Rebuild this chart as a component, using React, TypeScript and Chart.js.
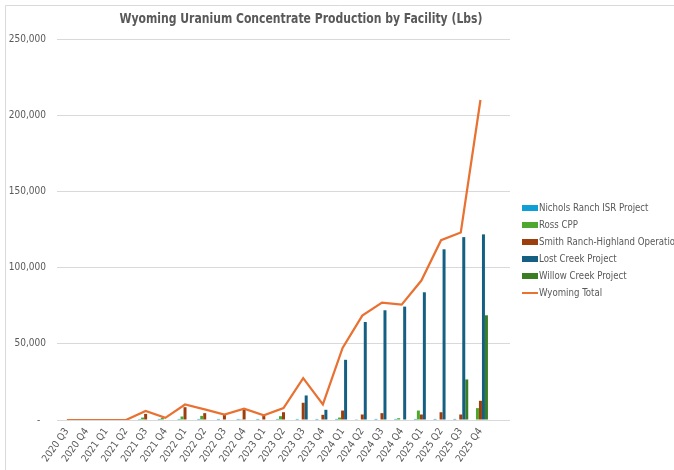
import React, { useEffect, useRef } from "react";
import { Chart, registerables } from "chart.js";

Chart.register(...registerables);

const categories = [
  "2020 Q3", "2020 Q4", "2021 Q1", "2021 Q2", "2021 Q3", "2021 Q4",
  "2022 Q1", "2022 Q2", "2022 Q3", "2022 Q4", "2023 Q1", "2023 Q2",
  "2023 Q3", "2023 Q4", "2024 Q1", "2024 Q2", "2024 Q3", "2024 Q4",
  "2025 Q1", "2025 Q2", "2025 Q3", "2025 Q4", "",
];

const nicholsRanch = [0, 0, 0, 0, 600, 700, 700, 700, 700, 700, 700, 700, 700, 700, 700, 500, 700, 700, 700, 700, 700, 0, null];
const rossCPP = [0, 0, 0, 0, 1600, 1400, 2300, 2700, 300, 500, 0, 2500, 0, 0, 1600, 0, 0, 1200, 6200, 0, 0, 7800, null];
const smithRanch = [0, 0, 0, 0, 4000, 0, 8400, 4500, 3300, 7100, 2800, 5100, 11300, 3400, 6200, 3600, 4500, 0, 3600, 5100, 3600, 12600, null];
const lostCreek = [0, 0, 0, 0, 0, 0, 0, 0, 0, 0, 0, 0, 16100, 6700, 39500, 64300, 72000, 74400, 83800, 112000, 120000, 121800, null];
const willowCreek = [0, 0, 0, 0, 0, 0, 0, 0, 0, 0, 0, 0, 0, 0, 0, 0, 0, 0, 0, 0, 26600, 68700, null];
const wyomingTotal = [0, 0, 0, 0, 6000, 1400, 10200, 7000, 3600, 7400, 3000, 7800, 27500, 10200, 47300, 68500, 77000, 75700, 91500, 118000, 123000, 210000, null];

const yTicks = [0, 50000, 100000, 150000, 200000, 250000];

const FONT = '"DejaVu Sans Condensed", "Liberation Sans Narrow", sans-serif';
const TEXT = "#595959";

const overlayPlugin = {
  id: "overlay",
  afterDraw(chart: any) {
    const ctx = chart.ctx;
    ctx.save();
    // chart border
    ctx.strokeStyle = "#D9D9D9";
    ctx.lineWidth = 1;
    ctx.beginPath();
    ctx.moveTo(5.5, 470);
    ctx.lineTo(5.5, 5.5);
    ctx.lineTo(674, 5.5);
    ctx.stroke();
    // title
    const title = "Wyoming Uranium Concentrate Production by Facility (Lbs)";
    ctx.fillStyle = TEXT;
    ctx.font = `bold 14px ${FONT}`;
    ctx.textAlign = "left";
    ctx.textBaseline = "middle";
    const tw = ctx.measureText(title).width;
    const targetW = 363;
    ctx.save();
    ctx.translate(301 - targetW / 2, 19);
    ctx.scale(targetW / tw, 1);
    ctx.fillText(title, 0, 0);
    ctx.restore();
    // legend
    ctx.font = `11px ${FONT}`;
    ctx.textAlign = "left";
    const ys = [208, 225, 242, 259, 276, 293];
    chart.data.datasets.forEach((ds: any, i: number) => {
      const y = ys[i];
      if (ds.type === "line") {
        ctx.strokeStyle = ds.borderColor;
        ctx.lineWidth = 2;
        ctx.beginPath();
        ctx.moveTo(522, y);
        ctx.lineTo(538, y);
        ctx.stroke();
      } else {
        ctx.fillStyle = ds.backgroundColor;
        ctx.fillRect(522, y - 3, 16, 6);
      }
      ctx.fillStyle = TEXT;
      ctx.save();
      ctx.translate(539, y + 0.5);
      ctx.scale(0.87, 1);
      ctx.fillText(ds.label, 0, 0);
      ctx.restore();
    });
    ctx.restore();
  },
};

export default function App() {
  const ref = useRef<HTMLCanvasElement | null>(null);
  useEffect(() => {
    if (!ref.current) return;
    const barCommon = { type: "bar" as const, order: 1, categoryPercentage: 0.76, barPercentage: 1.0 };
    const chart = new Chart(ref.current, {
      type: "bar",
      data: {
        labels: categories,
        datasets: [
          { ...barCommon, label: "Nichols Ranch ISR Project", data: nicholsRanch, backgroundColor: "#0F9ED5" },
          { ...barCommon, label: "Ross CPP", data: rossCPP, backgroundColor: "#4EA72E" },
          { ...barCommon, label: "Smith Ranch-Highland Operations", data: smithRanch, backgroundColor: "#9C3E0E" },
          { ...barCommon, label: "Lost Creek Project", data: lostCreek, backgroundColor: "#156082" },
          { ...barCommon, label: "Willow Creek Project", data: willowCreek, backgroundColor: "#3B7D23" },
          {
            type: "line" as const,
            order: 0,
            label: "Wyoming Total",
            data: wyomingTotal,
            borderColor: "#E97132",
            backgroundColor: "#E97132",
            borderWidth: 2.25,
            pointRadius: 0,
            tension: 0,
            spanGaps: false,
          },
        ] as any,
      },
      options: {
        animation: false,
        responsive: false,
        maintainAspectRatio: false,
        layout: { padding: { top: 39, right: 164, left: 0, bottom: 0 } },
        plugins: {
          legend: { display: false },
          title: { display: false },
          tooltip: { enabled: false },
        },
        scales: {
          x: {
            grid: { display: false, drawTicks: false },
            border: { display: false },
            ticks: {
              autoSkip: false,
              minRotation: 55,
              maxRotation: 55,
              padding: 6,
              color: TEXT,
              font: { family: FONT, size: 10 },
            },
            afterFit(scale: any) {
              scale.height = 50;
            },
          },
          y: {
            min: 0,
            max: 250000,
            afterBuildTicks(scale: any) {
              scale.ticks = yTicks.map((v) => ({ value: v }));
            },
            grid: { color: "#D9D9D9", lineWidth: 1, drawTicks: false },
            border: { display: false },
            ticks: {
              padding: 11,
              color: TEXT,
              font: { family: FONT, size: 10 },
              callback: (v: any) => (Number(v) === 0 ? "-  " : Number(v).toLocaleString("en-US")),
            },
            afterFit(scale: any) {
              scale.width = 57;
            },
          },
        },
      },
      plugins: [overlayPlugin],
    });
    return () => chart.destroy();
  }, []);
  return (
    <div style={{ position: "fixed", left: 0, top: 0, width: 674, height: 470, overflow: "hidden", background: "#fff" }}>
      <canvas ref={ref} width={674} height={470} style={{ display: "block" }} />
    </div>
  );
}
